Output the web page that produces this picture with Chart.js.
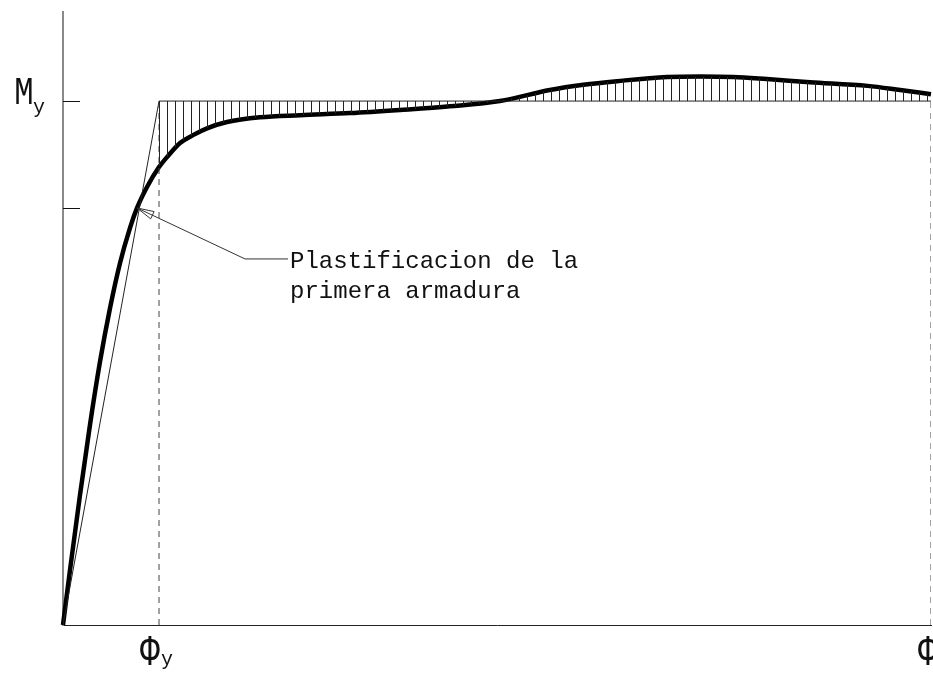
<!DOCTYPE html>
<html>
<head>
<meta charset="utf-8">
<script src="https://cdn.jsdelivr.net/npm/chart.js@4.4.1/dist/chart.umd.min.js"></script>
<style>
  html, body { margin: 0; padding: 0; background: #fff; }
  #wrap { width: 933px; height: 673px; position: relative; }
</style>
</head>
<body>
<div id="wrap"><canvas id="chart"></canvas></div>
<script>
// Curva momento-curvatura (phi / phi_y , M / M_y)
const curvePhi = [0, 0.073, 0.177, 0.281, 0.385, 0.490, 0.594, 0.698, 0.771, 0.875, 1.0, 1.083, 1.219, 1.354, 1.5, 1.708, 2.052, 2.47, 2.99, 3.51, 4.03, 4.55, 5.07, 5.42, 5.77, 6.29, 6.64, 6.98, 7.33, 7.78, 8.38, 8.72, 9.04];
const curveM   = [0, 0.105, 0.248, 0.382, 0.502, 0.605, 0.691, 0.758, 0.796, 0.836, 0.874, 0.893, 0.920, 0.935, 0.948, 0.960, 0.969, 0.973, 0.977, 0.983, 0.990, 1.0, 1.021, 1.031, 1.038, 1.046, 1.047, 1.046, 1.042, 1.036, 1.029, 1.021, 1.013];

// Idealizacion bilineal
const bilinPhi = [0, 1, 9.04];
const bilinM   = [0, 1, 1];

// Valores caracteristicos
const phiY = 1;
const phiU = 9.04;
const momY = 1;
const firstYield = [0.771, 0.796];   // plastificacion de la primera armadura
const yTickValues = [0.796, 1];
const axisMax = [9.04, 1.17];

// Textos
const labelM = ['M', 'y'];
const labelPhiY = ['\u03A6', 'y'];
const labelPhiU = ['\u03A6'];
const noteLines = ['Plastificacion de la', 'primera armadura'];

const toPoints = (xs, ys) => xs.map((x, i) => ({ x: x, y: ys[i] }));
const curvePts = toPoints(curvePhi, curveM);
const hatchPts = curvePts.filter(p => p.x >= phiY);

// Patron de rayado vertical
const patCanvas = document.createElement('canvas');
patCanvas.width = 8;
patCanvas.height = 8;
const pctx = patCanvas.getContext('2d');
pctx.fillStyle = '#222';
pctx.fillRect(0, 0, 1, 8);
const hatchPattern = pctx.createPattern(patCanvas, 'repeat');

const MONO = '"Liberation Mono", "DejaVu Sans Mono", monospace';

// texto estrechado en horizontal (como la fuente de CAD)
function narrowText(ctx, txt, cx, baseline, sx) {
    ctx.save();
    ctx.translate(cx, baseline);
    ctx.scale(sx, 1);
    ctx.fillText(txt, 0, 0);
    ctx.restore();
}

const decorPlugin = {
    id: 'decor',
    beforeDatasetsDraw(chart) {
        const x = chart.scales.x;
        hatchPattern.setTransform(new DOMMatrix().translate(Math.round(x.getPixelForValue(phiY)), 0));
    },
    afterDatasetsDraw(chart) {
        const ctx = chart.ctx;
        const x = chart.scales.x, y = chart.scales.y;
        const area = chart.chartArea;
        ctx.save();

        // marcas del eje de momentos (hacia dentro)
        ctx.strokeStyle = '#111';
        ctx.lineWidth = 1;
        yTickValues.forEach(v => {
            const py = Math.round(y.getPixelForValue(v)) + 0.5;
            ctx.beginPath();
            ctx.moveTo(area.left, py);
            ctx.lineTo(area.left + 17, py);
            ctx.stroke();
        });

        // M_y
        ctx.fillStyle = '#111';
        ctx.textBaseline = 'alphabetic';
        const pyMy = y.getPixelForValue(momY);
        ctx.textAlign = 'center';
        ctx.font = '38px ' + MONO;
        narrowText(ctx, labelM[0], 24, pyMy + 3, 0.85);
        ctx.textAlign = 'left';
        ctx.font = '20px ' + MONO;
        ctx.fillText(labelM[1], 33, pyMy + 12);

        // Phi_y y Phi_u
        const pxY = x.getPixelForValue(phiY);
        const pxU = x.getPixelForValue(phiU);
        ctx.textAlign = 'center';
        ctx.font = '44px ' + MONO;
        narrowText(ctx, labelPhiY[0], pxY - 9, area.bottom + 40, 0.75);
        narrowText(ctx, labelPhiU[0], pxU - 3, area.bottom + 40, 0.75);
        ctx.textAlign = 'left';
        ctx.font = '20px ' + MONO;
        ctx.fillText(labelPhiY[1], pxY + 2, area.bottom + 40);

        // flecha de anotacion
        const tx = x.getPixelForValue(firstYield[0]);
        const ty = y.getPixelForValue(firstYield[1]);
        const ex = tx + 108, ey = ty + 51;
        ctx.strokeStyle = '#333';
        ctx.lineWidth = 1;
        ctx.beginPath();
        ctx.moveTo(tx, ty);
        ctx.lineTo(ex, ey);
        ctx.lineTo(tx + 151, ey);
        ctx.stroke();
        const ang = Math.atan2(ey - ty, ex - tx);
        const len = 17, hw = 4;
        const bx = tx + Math.cos(ang) * len, by = ty + Math.sin(ang) * len;
        ctx.beginPath();
        ctx.moveTo(tx, ty);
        ctx.lineTo(bx - Math.sin(ang) * hw, by + Math.cos(ang) * hw);
        ctx.lineTo(bx + Math.sin(ang) * hw, by - Math.cos(ang) * hw);
        ctx.closePath();
        ctx.stroke();

        // texto
        ctx.fillStyle = '#111';
        ctx.font = '24px ' + MONO;
        noteLines.forEach((t, i) => ctx.fillText(t, tx + 153, ty + 60 + i * 30));
        ctx.restore();
    }
};

const dashed = {
    borderColor: '#444',
    borderWidth: 1,
    borderDash: [6, 5],
    pointRadius: 0,
    fill: false
};

new Chart(document.getElementById('chart'), {
    type: 'line',
    data: {
        datasets: [
            {
                data: hatchPts,
                borderWidth: 0,
                pointRadius: 0,
                cubicInterpolationMode: 'monotone',
                backgroundColor: hatchPattern,
                fill: { value: momY }
            },
            Object.assign({ data: [{ x: phiY, y: 0 }, { x: phiY, y: momY }] }, dashed),
            Object.assign({ data: [{ x: phiU, y: 0 }, { x: phiU, y: momY }] }, dashed),
            {
                data: toPoints(bilinPhi, bilinM),
                borderColor: '#222',
                borderWidth: 1,
                pointRadius: 0,
                tension: 0,
                fill: false
            },
            {
                data: curvePts,
                borderColor: '#000',
                borderWidth: 4.5,
                pointRadius: 0,
                cubicInterpolationMode: 'monotone',
                fill: false,
                clip: false
            }
        ]
    },
    options: {
        responsive: true,
        maintainAspectRatio: false,
        animation: false,
        layout: { padding: { left: 63, right: 2, top: 12, bottom: 48 } },
        plugins: {
            legend: { display: false },
            tooltip: { enabled: false }
        },
        scales: {
            x: {
                type: 'linear',
                min: 0,
                max: axisMax[0],
                grid: { display: false, drawTicks: false },
                ticks: { display: false },
                border: { display: true, color: '#222', width: 1 }
            },
            y: {
                type: 'linear',
                min: 0,
                max: axisMax[1],
                grid: { display: false, drawTicks: false },
                ticks: { display: false },
                border: { display: true, color: '#8a8a8a', width: 2 }
            }
        }
    },
    plugins: [decorPlugin]
});
</script>
</body>
</html>
